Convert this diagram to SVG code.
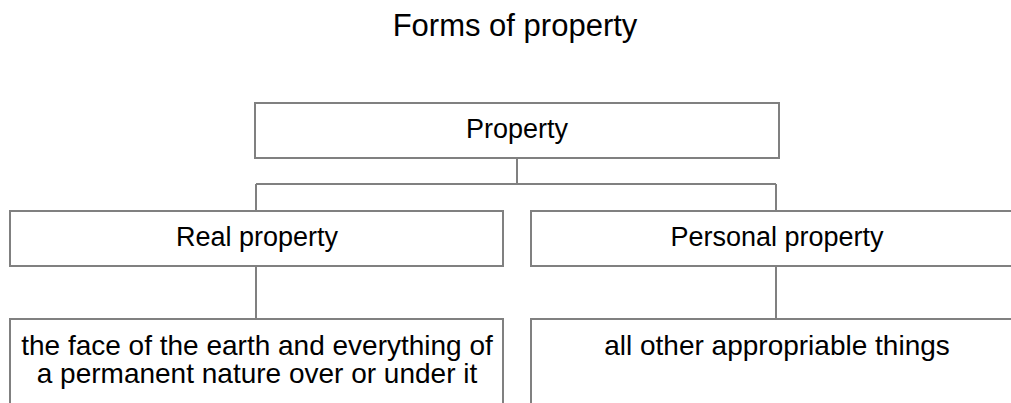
<svg xmlns="http://www.w3.org/2000/svg" width="1011" height="403" viewBox="0 0 1011 403">
<style>
.box{fill:#ffffff;stroke:#808080;stroke-width:2}
.conn{fill:none;stroke:#808080;stroke-width:2}
text{font-family:"Liberation Sans",Arial,sans-serif;fill:#000000;text-anchor:middle}
.t{font-size:27px}
.d{font-size:28px}
.title{font-size:31px}
</style>
<rect width="1011" height="403" fill="#ffffff"/>
<text class="title" x="515" y="36">Forms of property</text>
<g id="connectors">
<path class="conn" d="M517,158 V184 M256,184 H776 M256,184 V211 M776,184 V211 M256,266 V319 M776,266 V319"/>
</g>
<g id="property">
<rect class="box" x="255" y="103" width="524" height="55"/>
<text class="t" x="517" y="138">Property</text>
</g>
<g id="real-property">
<rect class="box" x="10" y="211" width="493" height="55"/>
<text class="t" x="257" y="246">Real property</text>
</g>
<g id="personal-property">
<rect class="box" x="531" y="211" width="491" height="55"/>
<text class="t" x="777" y="246">Personal property</text>
</g>
<g id="real-desc">
<rect class="box" x="10" y="319" width="493" height="100"/>
<text class="d" x="257" y="355"><tspan x="257">the face of the earth and everything of</tspan><tspan x="257" dy="28">a permanent nature over or under it</tspan></text>
</g>
<g id="personal-desc">
<rect class="box" x="531" y="319" width="491" height="100"/>
<text class="d" x="777" y="355">all other appropriable things</text>
</g>
</svg>
